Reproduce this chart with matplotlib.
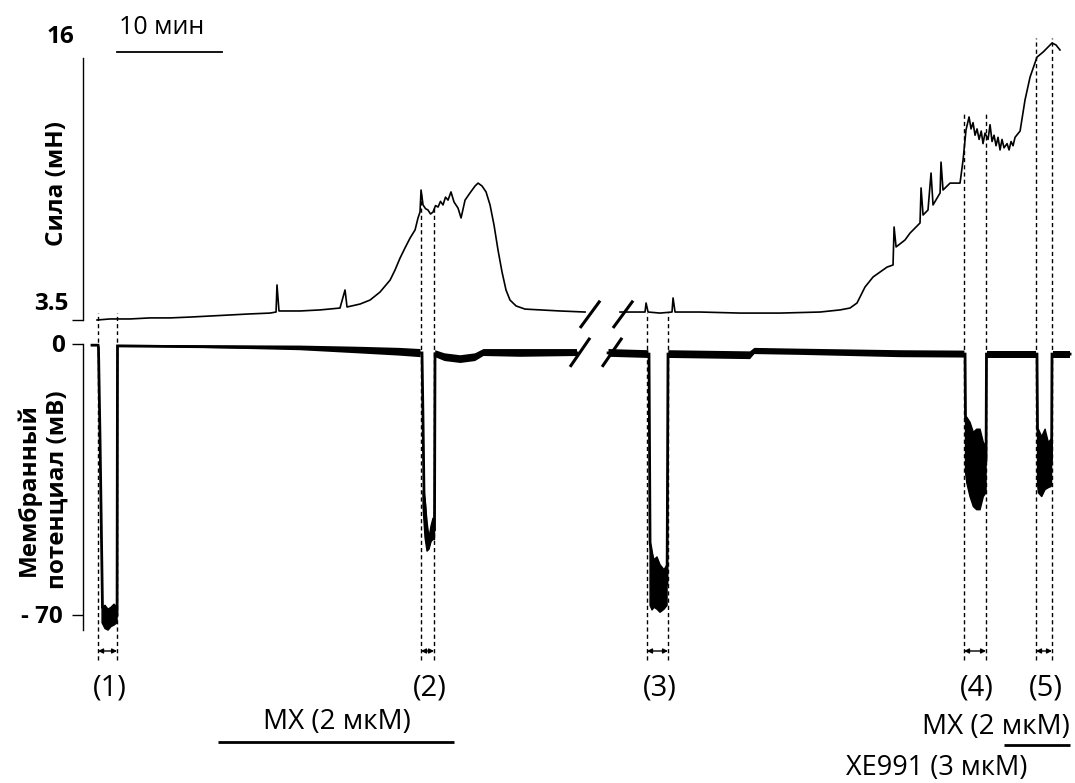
import numpy as np
import matplotlib.pyplot as plt

plt.rcParams['font.family'] = ['Open Sans', 'DejaVu Sans']

nan = np.nan

# force trace: time (min) / force (mN)
force_t = [0.19, 1.43, 3.33, 5.24, 7.14, 9.05, 10.95, 12.86, 14.76, 16.67, 17.24, 17.33, 17.52,
           19.52, 21.43, 23.33, 23.81, 24.00, 25.24, 26.19, 27.14, 28.10, 28.57, 29.05, 29.52,
           30.00, 30.48, 30.76, 30.95, 31.05, 31.24, 31.48, 31.71, 31.95, 32.19, 32.43, 32.67,
           32.90, 33.14, 33.38, 33.62, 33.90, 34.19, 34.57, 34.86, 35.24, 35.71, 36.19, 36.48,
           36.86, 37.24, 37.62, 38.00, 38.38, 38.76, 39.14, 39.52, 40.10, 40.95, 42.38, 44.29,
           46.67, nan,
           50.00, 51.90, 52.38, 52.48, 52.67, 53.81, 54.95, 55.05, 55.24, 57.62, 61.43, 65.24,
           69.05, 70.95, 71.90, 72.57, 73.33, 74.10, 75.43, 76.00, 76.10, 76.29, 77.14, 77.62,
           78.57, 78.67, 78.86, 79.33, 79.62, 79.81, 80.48, 80.57, 80.76, 81.43, 82.38, 82.67,
           82.95, 83.24, 83.43, 83.62, 83.81, 84.00, 84.20, 84.40, 84.57, 84.76, 85.05, 85.24,
           85.43, 85.62, 85.81, 86.00, 86.19, 86.38, 86.57, 86.86, 87.05, 87.24, 87.43, 87.62,
           88.10, 88.57, 89.05, 89.71, 90.29, 91.14, 91.52, 91.90]
force_mn = [3.50, 3.55, 3.55, 3.60, 3.60, 3.64, 3.69, 3.74, 3.79, 3.83, 3.88, 5.17, 3.93,
            3.93, 3.98, 4.07, 4.93, 4.12, 4.26, 4.45, 4.83, 5.40, 5.88, 6.45, 6.93,
            7.40, 7.79, 8.36, 8.64, 9.69, 8.98, 8.80, 8.74, 8.55, 8.64, 8.95, 8.88,
            9.15, 8.98, 9.35, 9.21, 9.60, 9.12, 8.83, 8.36, 9.21, 9.55, 9.88, 10.02,
            9.88, 9.60, 8.98, 8.02, 6.83, 5.79, 4.93, 4.45, 4.17, 4.02, 3.98, 3.93,
            3.88, nan,
            3.88, 3.88, 3.88, 4.31, 3.88, 3.83, 3.88, 4.55, 3.88, 3.88, 3.83, 3.83,
            3.88, 3.98, 4.07, 4.31, 5.07, 5.55, 6.02, 6.12, 7.93, 6.98, 7.31, 7.64,
            8.12, 9.79, 8.50, 8.74, 10.50, 8.98, 9.55, 11.02, 9.69, 10.02, 10.02, 11.12,
            12.55, 13.17, 12.60, 12.90, 12.30, 12.60, 12.10, 12.50, 11.90, 12.40, 12.10, 12.80,
            12.00, 12.30, 11.80, 12.20, 11.60, 12.10, 11.70, 11.90, 11.60, 12.00, 11.80, 12.20,
            12.50, 13.98, 15.07, 16.02, 16.26, 16.69, 16.60, 16.36]

# membrane potential centre line: time (min) / mV
vm_t = [-0.29, 0.29, 0.33, 0.48, 0.71, 1.24, 2.10, 2.14,
        10.00, 19.52, 25.00, 29.05, 30.95, 31.14, 31.24, 31.33, 31.62, 31.81, 32.19, 32.33, 32.38,
        32.57, 33.33, 34.76, 36.19, 36.95, 40.48, 45.90, nan,
        48.86, 52.76, 52.86, 53.50, 54.48, 54.57, 62.38, 62.76, 67.14, 76.67, 82.86, 82.90,
        84.00, 84.86, 84.90, 89.71, 89.76, 90.50, 91.10, 91.14, 92.86]
vm_mv = [-0.3, -0.3, -1.0, -25.0, -68.0, -70.0, -70.0, -0.5,
         -0.7, -1.0, -1.5, -1.9, -2.3, -2.3, -20.0, -38.4, -50.0, -52.0, -48.0, -48.0, -2.5,
         -2.5, -3.4, -3.9, -3.4, -2.3, -2.3, -2.3, nan,
         -2.3, -2.6, -51.3, -62.0, -62.0, -2.6, -2.9, -1.8, -2.0, -2.5, -2.6, -18.9,
         -30.0, -30.0, -2.6, -2.6, -22.0, -30.0, -30.0, -2.6, -2.6]

# noise envelope of the baseline (mV)
base_t = [2.14, 10.0, 19.5, 25.0, 29.0, 31.0, nan,
          32.4, 33.3, 34.8, 36.2, 37.0, 40.5, 45.9, nan,
          48.9, 52.7, nan, 54.6, 62.38, 62.8, 67.1, 76.7, 82.8, nan,
          84.95, 89.65, nan, 91.2, 92.86]
base_hi = [-0.2, -0.3, -0.4, -0.7, -1.0, -1.3, nan,
           -1.6, -2.4, -2.9, -2.4, -1.3, -1.3, -1.3, nan,
           -1.3, -1.6, nan, -1.6, -1.9, -1.0, -1.2, -1.6, -1.7, nan,
           -1.7, -1.7, nan, -1.7, -1.7]
base_lo = [-0.6, -1.0, -1.6, -2.4, -3.0, -3.4, nan,
           -3.4, -4.4, -4.9, -4.4, -3.1, -3.3, -3.1, nan,
           -3.3, -3.6, nan, -3.6, -3.9, -2.6, -2.8, -3.4, -3.5, nan,
           -3.5, -3.5, nan, -3.5, -3.5]

# noise envelope at the bottom of each impalement (mV)
imp_t = [0.67, 0.95, 1.24, 1.52, 1.81, 2.10, nan,
         31.24, 31.43, 31.62, 31.81, 32.00, 32.19, 32.33, nan,
         52.86, 53.05, 53.24, 53.52, 53.81, 54.19, 54.48, nan,
         82.90, 83.02, 83.33, 83.65, 83.97, 84.29, 84.60, 84.86, nan,
         89.76, 89.84, 90.16, 90.48, 90.79, 91.05, 91.10]
imp_hi = [-68.0, -67.5, -68.5, -68.0, -67.2, -68.0, nan,
          -38.0, -40.0, -46.0, -50.0, -47.0, -45.0, -45.0, nan,
          -51.3, -54.0, -55.7, -55.0, -57.0, -58.3, -57.0, nan,
          -18.9, -18.9, -20.2, -22.8, -22.0, -22.0, -25.4, -26.4, nan,
          -22.0, -22.0, -23.9, -22.0, -25.4, -24.6, -25.0]
imp_lo = [-72.0, -73.5, -73.9, -73.0, -72.6, -72.0, nan,
          -42.0, -50.0, -53.5, -53.0, -51.0, -50.5, -50.5, nan,
          -67.5, -68.7, -68.0, -68.5, -69.3, -68.5, -67.5, nan,
          -33.0, -35.8, -39.4, -42.0, -42.8, -42.8, -39.4, -38.4, nan,
          -36.0, -38.4, -39.4, -37.6, -37.1, -36.8, -36.5]

# recording windows (min) and where their dashed lines start on the force trace (mN)
win_labels = ['(1)', '(2)', '(3)', '(4)', '(5)']
win_start = [0.29, 31.05, 52.57, 82.76, 89.62]
win_end = [2.10, 32.29, 54.57, 84.86, 91.14]
win_top_start = [3.83, 9.60, 3.83, 13.36, 16.93]
win_top_end = [3.83, 8.90, 3.83, 13.36, 16.93]

# drug applications (min)
mx1 = (11.71, 34.19)
mx2 = (86.57, 92.86)
scale_bar = (2.10, 12.10)   # 10 min

# ---- layout (pixel mapping of the original figure) ----
W, H = 1075, 783
X_LIM = (-9.05, 93.33)
F_LIM = (2.786, 18.74)
V_LIM = (-113.4, 2.33)
SPLIT = 335 / H

fig = plt.figure(figsize=(W / 100, H / 100), dpi=100)
ax_f = fig.add_axes([0, 1 - SPLIT, 1, SPLIT])
ax_v = fig.add_axes([0, 0, 1, 1 - SPLIT])

for ax in (ax_f, ax_v):
    ax.set_xlim(*X_LIM)
    ax.patch.set_alpha(0)
    for s in ('top', 'right', 'bottom'):
        ax.spines[s].set_visible(False)
    ax.spines['left'].set_position(('data', -1.14))
    ax.spines['left'].set_linewidth(1.0)
    ax.set_xticks([])
    ax.tick_params(axis='y', length=8, width=1.0, labelleft=False)
ax_f.set_ylim(*F_LIM)
ax_v.set_ylim(*V_LIM)
ax_f.spines['left'].set_bounds(3.5, 16)
ax_f.set_yticks([3.5])
ax_v.spines['left'].set_bounds(-74, 0)
ax_v.set_yticks([0, -70])

# traces
ax_f.plot(force_t, force_mn, color='k', lw=1.2)
ax_v.plot(vm_t, vm_mv, color='k', lw=2.0, solid_joinstyle='miter')
ax_v.fill_between(base_t, base_lo, base_hi, color='k', lw=0)
ax_v.fill_between(imp_t, imp_lo, imp_hi, facecolor='k', edgecolor='k', lw=1.0)

# dashed window markers + arrows + labels
dash = (0, (3, 2.2))
ARROW_V = -79.3
for t0, t1, f0, f1, lab in zip(win_start, win_end, win_top_start, win_top_end, win_labels):
    ax_f.vlines([t0, t1], F_LIM[0], [f0, f1], colors='k', lw=1.0, linestyles=dash)
    ax_v.vlines([t0, t1], -81.6, V_LIM[1], colors='k', lw=1.0, linestyles=dash)
    ax_v.annotate('', xy=(t1, ARROW_V), xytext=(t0, ARROW_V),
                  arrowprops=dict(arrowstyle='<|-|>', color='k', lw=1.0,
                                  mutation_scale=7, shrinkA=0, shrinkB=0))
    ax_v.text((t0 + t1) / 2 + 0.2, -88.9, lab, ha='center', va='center', fontsize=21)

# axis break marks
for a, b in ((46.19, 48.10), (49.33, 51.24)):
    ax_f.plot([a, b], [3.12, 4.42], color='k', lw=2.2, solid_capstyle='butt')
for a, b in ((45.24, 47.14), (48.29, 50.19)):
    ax_v.plot([a, b], [-5.9, 1.6], color='k', lw=2.2, solid_capstyle='butt')

# scale bar
ax_f.plot(scale_bar, [16.26, 16.26], color='k', lw=1.3)
fig.text(162 / W, 1 - 28 / H, '10 мин', ha='center', va='center', fontsize=18)

# drug bars
ax_v.plot(mx1, [-102.8, -102.8], color='k', lw=2.0, solid_capstyle='butt')
ax_v.text(sum(mx1) / 2 + 0.1, -97.6, 'МХ (2 мкМ)', ha='center', va='center', fontsize=20)
ax_v.plot(mx2, [-103.6, -103.6], color='k', lw=2.0, solid_capstyle='butt')
ax_v.text(mx2[1], -98.9, 'МХ (2 мкМ)', ha='right', va='center', fontsize=20)
ax_v.text(80.14, -109.5, 'XE991 (3 мкМ)', ha='center', va='center', fontsize=19.5)

# axis labels
bold = dict(fontsize=17.5, fontweight='bold', va='center')
fig.text(60 / W, 1 - 37 / H, '16', ha='center', **bold)
fig.text(51 / W, 1 - 304 / H, '3.5', ha='center', **bold)
fig.text(58 / W, 1 - 346 / H, '0', ha='center', **bold)
fig.text(42 / W, 1 - 617 / H, '- 70', ha='center', **bold)
fig.text(57 / W, 1 - 183 / H, 'Сила (мН)', ha='center', rotation=90, **bold)
fig.text(43 / W, 1 - 490 / H, 'Мембранный\nпотенциал (мВ)', ha='center', rotation=90,
         linespacing=1.25, multialignment='center', **bold)

fig.savefig('out.png', dpi=100)
